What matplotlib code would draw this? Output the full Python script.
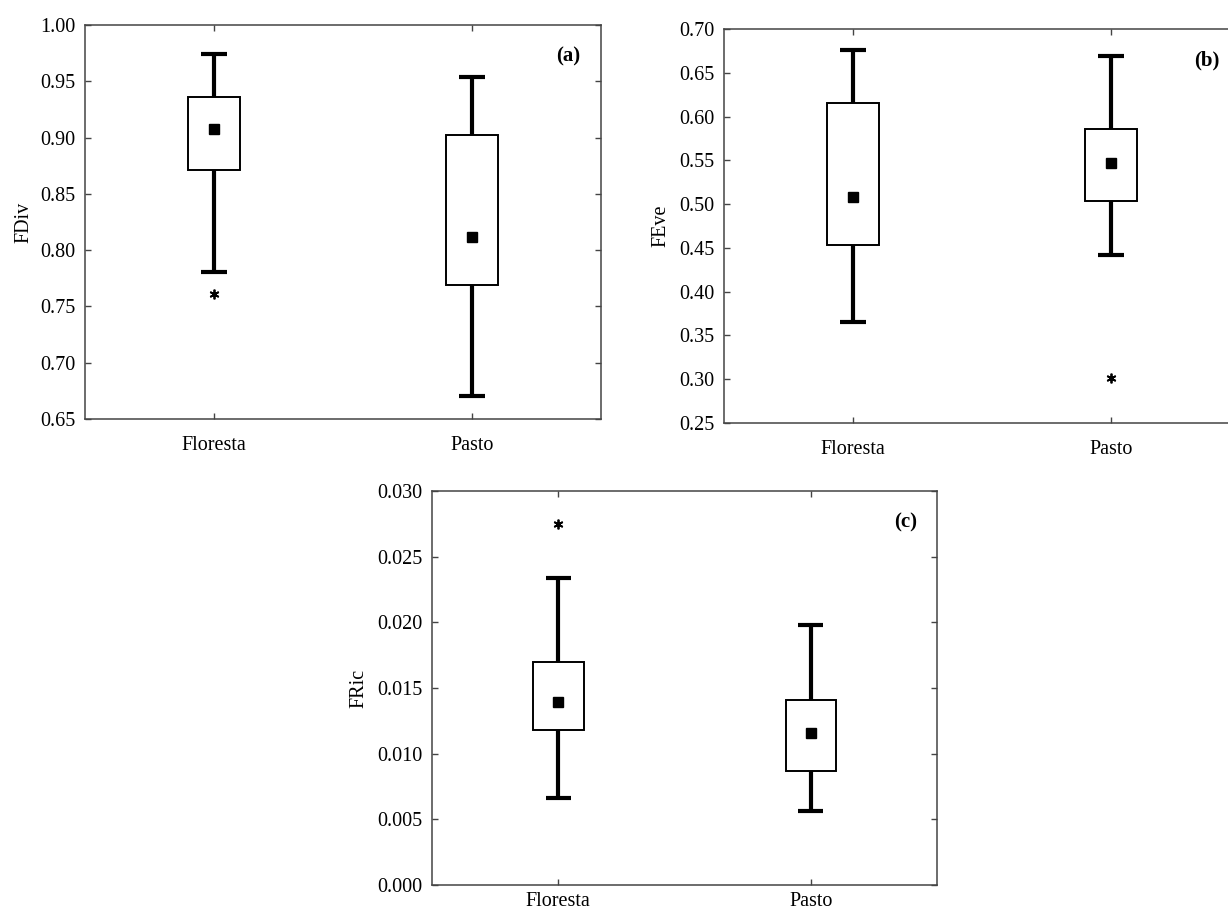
import matplotlib
matplotlib.use("Agg")
import matplotlib.pyplot as plt
from matplotlib.ticker import FormatStrFormatter, MultipleLocator

plt.rcParams['font.family'] = ['Liberation Serif', 'DejaVu Serif']

categories = ['Floresta', 'Pasto']

# Panel (a) FDiv
fdiv_whislo = [0.781, 0.670]
fdiv_q1 = [0.871, 0.769]
fdiv_med = [0.908, 0.812]
fdiv_q3 = [0.936, 0.902]
fdiv_whishi = [0.974, 0.954]
fdiv_out = [[0.761], []]

# Panel (b) FEve
feve_whislo = [0.365, 0.442]
feve_q1 = [0.453, 0.503]
feve_med = [0.508, 0.547]
feve_q3 = [0.615, 0.586]
feve_whishi = [0.676, 0.669]
feve_out = [[], [0.301]]

# Panel (c) FRic
fric_whislo = [0.0066, 0.0056]
fric_q1 = [0.0118, 0.0087]
fric_med = [0.0139, 0.0116]
fric_q3 = [0.0170, 0.0141]
fric_whishi = [0.0234, 0.0198]
fric_out = [[0.0275], []]

W, H = 1228, 914
fig = plt.figure(figsize=(W / 100, H / 100), dpi=100)


def px_axes(left, top, right, bottom):
    return fig.add_axes([left / W, 1 - bottom / H, (right - left) / W, (bottom - top) / H])


def draw(ax, whislo, q1, med, q3, whishi, out, ylim, step, fmt, ylabel, tag,
         labelpad, xpad):
    stats = []
    for i, name in enumerate(categories):
        stats.append(dict(label=name, whislo=whislo[i], q1=q1[i], med=med[i],
                          q3=q3[i], whishi=whishi[i], fliers=out[i]))
    ax.bxp(stats, positions=range(len(categories)), widths=0.2, patch_artist=True,
           boxprops=dict(facecolor='white', edgecolor='black', linewidth=1.4),
           whiskerprops=dict(color='black', linewidth=3.0, solid_capstyle='butt'),
           capprops=dict(color='black', linewidth=3.0, solid_capstyle='butt'),
           medianprops=dict(linewidth=0),
           flierprops=dict(marker=(6, 2, 0), markersize=7, markeredgecolor='black',
                           markeredgewidth=1.3, linestyle='none'),
           zorder=2)
    ax.plot(range(len(categories)), med, linestyle='none', marker='s', markersize=7,
            color='black', zorder=4)
    ax.set_xlim(-0.5, 1.5)
    ax.set_ylim(*ylim)
    ax.yaxis.set_major_locator(MultipleLocator(step))
    ax.yaxis.set_major_formatter(FormatStrFormatter(fmt))
    ax.set_xticks(range(len(categories)))
    ax.set_xticklabels(categories)
    ax.tick_params(direction='in', length=4, width=1, color='#444444',
                   top=True, right=True, labelsize=14.5)
    ax.tick_params(axis='y', pad=7)
    ax.tick_params(axis='x', pad=xpad)
    for sp in ax.spines.values():
        sp.set_color('#444444')
        sp.set_linewidth(1.1)
    ax.set_ylabel(ylabel, fontsize=14.5, labelpad=labelpad)
    ax.text(0.96, 0.92, tag, transform=ax.transAxes, ha='right', va='center',
            fontsize=15, fontweight='bold')


ax_a = px_axes(85, 25, 601, 419)
draw(ax_a, fdiv_whislo, fdiv_q1, fdiv_med, fdiv_q3, fdiv_whishi, fdiv_out,
     (0.65, 1.00), 0.05, '%.2f', 'FDiv', '(a)', 5, 12)

ax_b = px_axes(724, 29, 1240, 423)
draw(ax_b, feve_whislo, feve_q1, feve_med, feve_q3, feve_whishi, feve_out,
     (0.25, 0.70), 0.05, '%.2f', 'FEve', '(b)', 6, 12)

ax_c = px_axes(432, 491, 937, 885)
draw(ax_c, fric_whislo, fric_q1, fric_med, fric_q3, fric_whishi, fric_out,
     (0.0, 0.030), 0.005, '%.3f', 'FRic', '(c)', 6, 5)

fig.savefig('out.png', dpi=100)
